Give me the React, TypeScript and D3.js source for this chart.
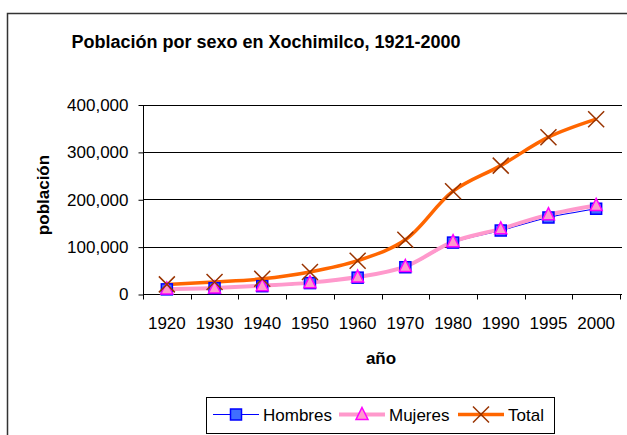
import React, { useEffect, useRef } from 'react'
import * as d3 from 'd3';

const WIDTH = 627;
const HEIGHT = 435;

// data
const years = ['1920', '1930', '1940', '1950', '1960', '1970', '1980', '1990', '1995', '2000'];
const hombres = [9800, 12300, 16500, 23000, 34500, 56500, 108500, 134000, 161500, 180000];
const mujeres = [10500, 12900, 17500, 24000, 35800, 58000, 110500, 137500, 167500, 187000];
const total = [20300, 25500, 32000, 46500, 70300, 114500, 217000, 271000, 331000, 369000];
const yTicks = [0, 100000, 200000, 300000, 400000];

const FONT = 'Arial, "Liberation Sans", sans-serif';

const App = () => {
    const svgRef = useRef<SVGSVGElement>(null);

    useEffect(() => {
      const margin = { left: 143, right: 622, top: 104.5, bottom: 294 };

      const x = d3.scaleBand().domain(years).range([margin.left, 620]);
      const y = d3.scaleLinear().domain([0, 400000]).range([margin.bottom, margin.top]);

      const svg = d3.select(svgRef.current);
      svg.selectAll("*").remove();

      // outer chart frame
      svg.append("rect")
          .attr("x", 7.5).attr("y", 13.5)
          .attr("width", 650).attr("height", 450)
          .attr("fill", "white")
          .attr("stroke", "#333").attr("stroke-width", 1.5);

      // title
      svg.append("text")
          .attr("x", 266).attr("y", 48)
          .attr("text-anchor", "middle")
          .style("font", `bold 18px ${FONT}`)
          .text("Población por sexo en Xochimilco, 1921-2000");

      // gridlines
      svg.append("g")
        .selectAll("line")
        .data(yTicks.slice(1))
        .join("line")
          .attr("x1", margin.left).attr("x2", margin.right)
          .attr("y1", d => Math.round(y(d)) + 0.5).attr("y2", d => Math.round(y(d)) + 0.5)
          .attr("stroke", "#000");

      // y axis
      const yAxis = svg.append("g")
          .attr("transform", `translate(${margin.left + 0.5},0.5)`)
          .call(d3.axisLeft(y).tickValues(yTicks).tickFormat(d3.format(",")).tickSize(5).tickPadding(10).tickSizeOuter(0));
      yAxis.selectAll("text").style("font", `17px ${FONT}`).attr("fill", "#000");
      yAxis.selectAll("line, path").attr("stroke", "#000");
      yAxis.select(".domain").attr("d", `M0,${margin.top}V${margin.bottom}`);

      // x axis
      const xAxis = svg.append("g")
          .attr("transform", `translate(0,${margin.bottom + 0.5})`)
          .call(d3.axisBottom(x).tickSize(0).tickPadding(22));
      xAxis.select(".domain").attr("d", `M${margin.left},0H${margin.right}`).attr("stroke", "#000");
      xAxis.selectAll("text").style("font", `17px ${FONT}`).attr("fill", "#000");
      xAxis.append("g")
        .selectAll("line")
        .data(years.map(d => x(d)!).concat([x(years[years.length - 1])! + x.bandwidth()]))
        .join("line")
          .attr("x1", d => Math.round(d) + 0.5).attr("x2", d => Math.round(d) + 0.5)
          .attr("y1", 0).attr("y2", 5)
          .attr("stroke", "#000");

      // axis titles
      svg.append("text")
          .attr("x", 381).attr("y", 364)
          .attr("text-anchor", "middle")
          .style("font", `bold 17px ${FONT}`)
          .text("año");
      svg.append("text")
          .attr("transform", "translate(49,195) rotate(-90)")
          .attr("text-anchor", "middle")
          .style("font", `bold 17px ${FONT}`)
          .text("población");

      const cx = (i: number) => x(years[i])! + x.bandwidth() / 2;
      const line = (vals: number[]) => d3.line<number>()
          .x((_, i) => cx(i))
          .y(d => y(d))
          .curve(d3.curveCatmullRom.alpha(0.5))(vals);

      const square = (g, px, py) => g.append("rect")
          .attr("x", px - 5.5).attr("y", py - 5.5)
          .attr("width", 11).attr("height", 11)
          .attr("fill", "#3f6fff").attr("stroke", "#0000ff").attr("stroke-width", 1.5);
      const triangle = (g, px, py) => g.append("path")
          .attr("d", `M${px},${py - 7}L${px + 6},${py + 5}L${px - 6},${py + 5}Z`)
          .attr("fill", "#ff99cc").attr("stroke", "#ff00ff").attr("stroke-width", 1.5);
      const cross = (g, px, py) => g.append("path")
          .attr("d", `M${px - 8},${py - 8}L${px + 8},${py + 8}M${px + 8},${py - 8}L${px - 8},${py + 8}`)
          .attr("stroke", "#993300").attr("stroke-width", 1.5).attr("fill", "none");

      const plot = svg.append("g");
      plot.append("path").attr("d", line(total)).attr("fill", "none")
          .attr("stroke", "#ff6600").attr("stroke-width", 3.5);
      plot.append("path").attr("d", line(hombres)).attr("fill", "none")
          .attr("stroke", "#0000ff").attr("stroke-width", 1.2);
      plot.append("path").attr("d", line(mujeres)).attr("fill", "none")
          .attr("stroke", "#ff99cc").attr("stroke-width", 4);

      hombres.forEach((v, i) => square(plot, cx(i), y(v)));
      mujeres.forEach((v, i) => triangle(plot, cx(i), y(v)));
      total.forEach((v, i) => cross(plot, cx(i), y(v)));

      // legend
      const legend = svg.append("g");
      legend.append("rect")
          .attr("x", 206.5).attr("y", 397.5).attr("width", 348).attr("height", 36)
          .attr("fill", "white").attr("stroke", "#000");
      const items = [
        { name: "Hombres", x0: 213, color: "#0000ff", w: 1.2, marker: square },
        { name: "Mujeres", x0: 339, color: "#ff99cc", w: 4, marker: triangle },
        { name: "Total", x0: 458, color: "#ff6600", w: 3.5, marker: cross },
      ];
      items.forEach(it => {
        legend.append("line")
            .attr("x1", it.x0).attr("x2", it.x0 + 46).attr("y1", 414.5).attr("y2", 414.5)
            .attr("stroke", it.color).attr("stroke-width", it.w);
        it.marker(legend, it.x0 + 23, 414.5);
        legend.append("text")
            .attr("x", it.x0 + 50).attr("y", 420.5)
            .style("font", `17px ${FONT}`)
            .text(it.name);
      });
    }, []);

    return (
        <div>
            <style>{`body{margin:0}`}</style>
            <svg width={WIDTH} height={HEIGHT} ref={svgRef} style={{ display: 'block' }} />
        </div>
    );
}

export default App;
